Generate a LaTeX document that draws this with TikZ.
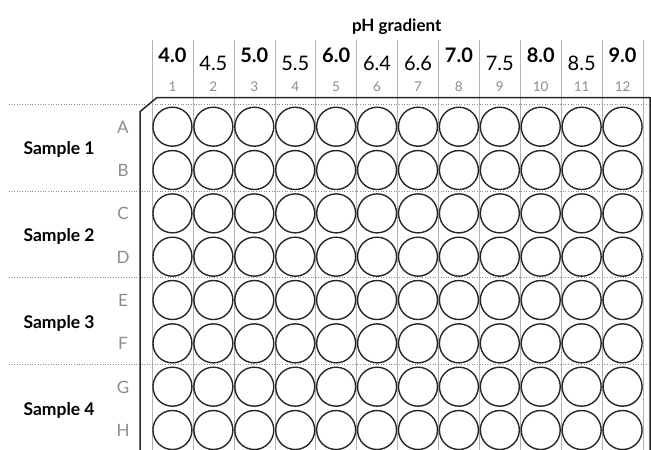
\documentclass[tikz,border=0pt]{standalone}
\usepackage{fontspec}
\setmainfont{Lato}
\usetikzlibrary{positioning}

\begin{document}
\begin{tikzpicture}[
  x=1pt, y=-1pt,
  well/.style={circle, draw=black!85, line width=1.4pt, minimum size=39pt, inner sep=0pt},
  plate/.style={draw=black!85, line width=1.5pt},
  gridline/.style={draw=black!30, line width=0.5pt},
  sep/.style={draw=black!45, line width=0.6pt, dotted},
  title/.style={font=\fontsize{17}{19}\selectfont\bfseries, anchor=base},
  phmain/.style={font=\fontsize{20}{22}\selectfont\bfseries, anchor=base},
  phmid/.style={font=\fontsize{20}{22}\selectfont, anchor=base},
  colnum/.style={font=\fontsize{13.5}{15}\selectfont, text=black!45, anchor=base},
  rowlab/.style={font=\fontsize{17}{19}\selectfont, text=black!45, anchor=base},
  sample/.style={font=\fontsize{17.5}{19}\selectfont\bfseries, anchor=base west}
]
\useasboundingbox (0,0) rectangle (651,450);

% --- 1. Grid lines ---
\foreach \k in {0,...,12}
  \draw[gridline] ({152+40.92*\k},40) -- ({152+40.92*\k},450);
\foreach \k in {0,...,3}
  \draw[sep] (9,{104.3+86.67*\k}) -- (650,{104.3+86.67*\k});

% --- 2. Plate outline ---
\draw[plate] (140,450) -- (140,111.7) -- (156.7,97.7) -- (650,97.7) -- (650,450);

% --- 3. Header ---
\node[title] (title) at (396.7,31) {pH gradient};
\foreach \v/\s/\y [count=\c] in {4.0/phmain/62.7, 4.5/phmid/70, 5.0/phmain/62.7, 5.5/phmid/70,
    6.0/phmain/62.7, 6.4/phmid/70, 6.6/phmid/70, 7.0/phmain/62.7, 7.5/phmid/70,
    8.0/phmain/62.7, 8.5/phmid/70, 9.0/phmain/62.7} {
  \node[\s] (ph\c) at ({152+40.92*(\c-0.5)},\y) {\v};
  \node[colnum] (col\c) at ({152+40.92*(\c-0.5)},91) {\c};
}

% --- 4. Rows and samples ---
\foreach \r [count=\i] in {A,B,C,D,E,F,G,H} {
  \node[rowlab] (row\r) at (123,{126.7+43.33*(\i-1)+6.6}) {\r};
  \foreach \c in {1,...,12}
    \node[well] (well\r\c) at ({152+40.92*(\c-0.5)},{126.7+43.33*(\i-1)}) {};
}
\foreach \k in {1,...,4}
  \node[sample] (sample\k) at (20,{154+87*(\k-1)}) {Sample \k};

\end{tikzpicture}
\end{document}
